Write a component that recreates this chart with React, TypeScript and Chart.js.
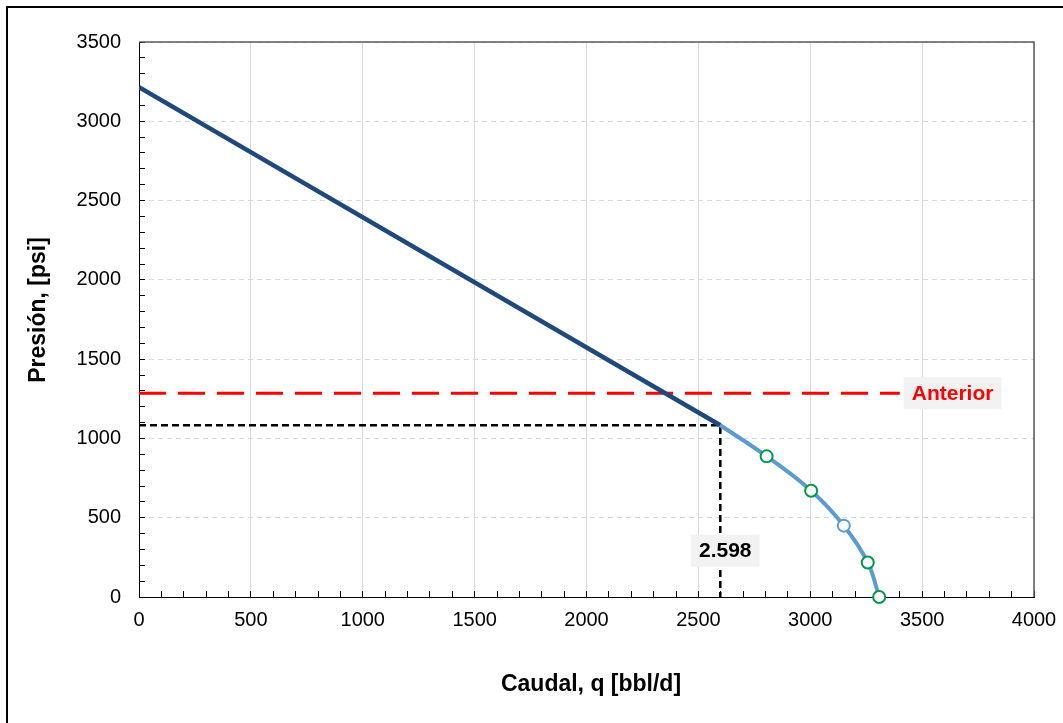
import React, { useEffect, useRef } from "react";
import { Chart, registerables } from "chart.js";

Chart.register(...registerables);

// ---- Data ----
const X_MIN = 0;
const X_MAX = 4000;
const Y_MIN = 0;
const Y_MAX = 3500;
const MAJOR_STEP = 500;
const MINOR_STEP = 100;

// Straight (above bubble point) IPR segment
const linearQ = [0, 2598];
const linearP = [3215, 1083];

// Curved (below bubble point) IPR segment
const curveQ = [2598, 2805, 3004, 3150, 3257, 3308];
const curveP = [1083, 887, 670, 450, 218, 0];

// Marker points on the curve
const markerQ = [2805, 3004, 3150, 3257, 3308];
const markerP = [887, 670, 450, 218, 0];
const markerBorder = ["#00994C", "#00994C", "#5B9BD5", "#00994C", "#00994C"];

// Operating point guide lines
const opQ = 2598;
const opP = 1083;
const opLabel = "2.598";
const opLabelAt = [2620, 292];

// Previous pressure line
const anteriorP = 1285;
const anteriorQ = [0, 3400];
const anteriorLabel = "Anterior";
const anteriorLabelAt = [3636, 1285];

const xTitle = "Caudal, q [bbl/d]";
const yTitle = "Presión, [psi]";

const FONT = "'Liberation Sans', Arial, sans-serif";

const toXY = (xs: number[], ys: number[]) => xs.map((x, i) => ({ x, y: ys[i] }));
const isMajor = (v: number) => Math.abs(Math.round(v) % MAJOR_STEP) === 0;

const overlay = {
  id: "overlay",
  afterDatasetsDraw(chart: any) {
    const { ctx, chartArea: a, scales } = chart;
    const x = scales.x;
    const y = scales.y;
    ctx.save();
    // plot frame top & right
    ctx.strokeStyle = "#595959";
    ctx.lineWidth = 1.5;
    ctx.beginPath();
    ctx.moveTo(a.left, a.top);
    ctx.lineTo(a.right, a.top);
    ctx.lineTo(a.right, a.bottom);
    ctx.stroke();

    const box = (text: string, cx: number, cy: number, color: string, padX: number, h: number) => {
      ctx.font = `bold 21px ${FONT}`;
      const w = ctx.measureText(text).width + padX * 2;
      ctx.fillStyle = "#F2F2F2";
      ctx.fillRect(cx - w / 2, cy - h / 2, w, h);
      ctx.fillStyle = color;
      ctx.textAlign = "center";
      ctx.textBaseline = "middle";
      ctx.fillText(text, cx, cy + 1);
    };
    box(opLabel, x.getPixelForValue(opLabelAt[0]), y.getPixelForValue(opLabelAt[1]), "#000", 8, 32);
    box(anteriorLabel, x.getPixelForValue(anteriorLabelAt[0]), y.getPixelForValue(anteriorLabelAt[1]), "#FF0000", 8, 32);
    ctx.restore();
  },
  afterDraw(chart: any) {
    const { ctx } = chart;
    ctx.save();
    ctx.fillStyle = "#000";
    ctx.font = `bold 23px ${FONT}`;
    ctx.textAlign = "center";
    ctx.textBaseline = "middle";
    ctx.fillText(xTitle, 591, 685);
    ctx.translate(39, 310);
    ctx.rotate(-Math.PI / 2);
    ctx.fillText(yTitle, 0, 0);
    ctx.restore();
  },
};

export default function App() {
  const ref = useRef<HTMLCanvasElement>(null);

  useEffect(() => {
    if (!ref.current) return;
    const chart = new Chart(ref.current, {
      type: "scatter",
      data: {
        datasets: [
          {
            label: "markers",
            data: toXY(markerQ, markerP),
            showLine: false,
            pointRadius: 6,
            pointBorderWidth: 2,
            pointBorderColor: markerBorder,
            pointBackgroundColor: "#FFFFFF",
            clip: false,
          },
          {
            label: "curve",
            data: toXY(curveQ, curveP),
            showLine: true,
            borderColor: "#5B9BD5",
            borderWidth: 4,
            pointRadius: 0,
            tension: 0.4,
          },
          {
            label: "linear",
            data: toXY(linearQ, linearP),
            showLine: true,
            borderColor: "#1F497D",
            borderWidth: 4.5,
            pointRadius: 0,
          },
          {
            label: "op",
            data: [
              { x: X_MIN, y: opP },
              { x: opQ, y: opP },
              { x: opQ, y: Y_MIN },
            ],
            showLine: true,
            borderColor: "#000000",
            borderWidth: 2.5,
            borderDash: [7, 4],
            pointRadius: 0,
          },
          {
            label: "anterior",
            data: anteriorQ.map((q) => ({ x: q, y: anteriorP })),
            showLine: true,
            borderColor: "#FF0000",
            borderWidth: 3,
            borderDash: [27, 12],
            pointRadius: 0,
          },
        ],
      } as any,
      options: {
        responsive: false,
        animation: false,
        devicePixelRatio: 1,
        layout: { padding: { left: 0, right: 29, top: 42, bottom: 0 } },
        plugins: {
          legend: { display: false },
          tooltip: { enabled: false },
          title: { display: false },
        },
        scales: {
          x: {
            type: "linear",
            min: X_MIN,
            max: X_MAX,
            afterFit: (s: any) => {
              s.height = 126;
              s.paddingLeft = 0;
              s.paddingRight = 0;
            },
            ticks: {
              stepSize: MINOR_STEP,
              autoSkip: false,
              maxRotation: 0,
              minRotation: 0,
              padding: 17,
              color: "#000",
              font: { family: FONT, size: 20 },
              callback: (v: any) => (isMajor(Number(v)) ? String(v) : ""),
            },
            grid: {
              color: (c: any) => (c.tick && isMajor(c.tick.value) ? "#D9D9D9" : "rgba(0,0,0,0)"),
              lineWidth: 1,
              drawTicks: true,
              tickLength: -6,
              tickColor: "#000",
              tickWidth: 1,
            },
            border: { color: "#000", width: 1 },
          },
          y: {
            type: "linear",
            min: Y_MIN,
            max: Y_MAX,
            afterFit: (s: any) => {
              s.width = 139;
              s.paddingTop = 0;
              s.paddingBottom = 0;
            },
            ticks: {
              stepSize: MINOR_STEP,
              autoSkip: false,
              padding: 24,
              color: "#000",
              font: { family: FONT, size: 20 },
              callback: (v: any) => (isMajor(Number(v)) ? String(v) : ""),
            },
            grid: {
              color: (c: any) => (c.tick && isMajor(c.tick.value) ? "#D9D9D9" : "rgba(0,0,0,0)"),
              lineWidth: 1,
              drawTicks: true,
              tickLength: -6,
              tickColor: "#000",
              tickWidth: 1,
            },
            border: { color: "#000", width: 1, dash: [5, 4] },
          },
        },
      } as any,
      plugins: [overlay],
    });
    return () => chart.destroy();
  }, []);

  return (
    <div
      style={{
        position: "fixed",
        left: 0,
        top: 0,
        width: 1063,
        height: 723,
        overflow: "hidden",
        background: "#FFFFFF",
      }}
    >
      <div
        style={{
          position: "absolute",
          left: 6,
          top: 6,
          width: 1300,
          height: 1000,
          borderLeft: "2px solid #000",
          borderTop: "2px solid #000",
        }}
      />
      <canvas
        ref={ref}
        width={1063}
        height={723}
        style={{ position: "absolute", left: 0, top: 0, width: 1063, height: 723 }}
      />
    </div>
  );
}
